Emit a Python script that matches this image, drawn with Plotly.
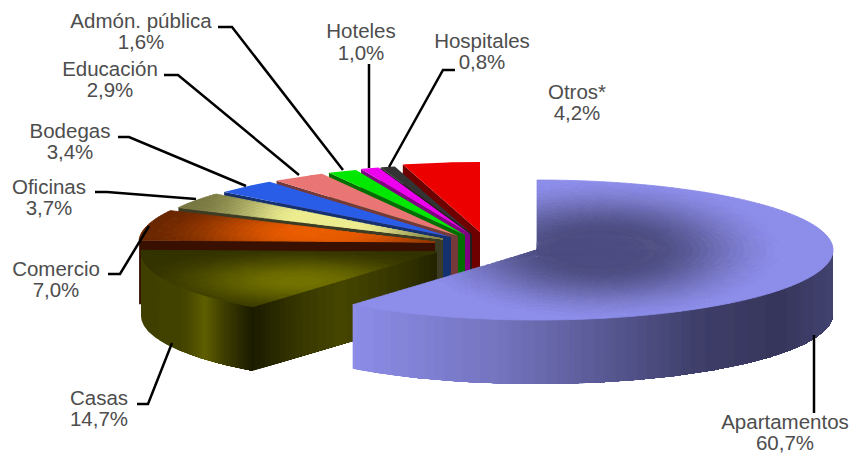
import math
import plotly.graph_objects as go

# ---- data ----
categories = ["Apartamentos", "Casas", "Comercio", "Oficinas", "Bodegas",
              "Educación", "Admón. pública", "Hoteles", "Hospitales", "Otros*"]
shares = [60.7, 14.7, 7.0, 3.7, 3.4, 2.9, 1.6, 1.0, 0.8, 4.2]

# ---- layout / style (pixel space of the 849x455 page) ----
W, H = 849, 455
RX, RY, DEPTH = 296, 70, 64
apex = [(537, 250), (437, 252), (435, 242), (443, 239), (451, 237),
        (458, 236), (465, 235), (470, 234), (472, 234), (480, 232)]
# inner colour, outer colour, gradient centre, half sizes, plateau
face_style = [
    ((76, 76, 128), (141, 141, 235), (600, 250), (190, 72), 0.22),
    ((114, 114, 0), (52, 52, 0), (300, 281), (165, 34), 0.05),
    ((235, 92, 0), (105, 38, 0), (320, 232), (180, 40), 0.1),
    ((238, 238, 145), (120, 120, 65), (325, 225), (135, 80), 0.2),
    ((42, 92, 232), (42, 92, 232), None, None, 0),
    ((234, 117, 117), (234, 117, 117), None, None, 0),
    ((0, 232, 0), (0, 232, 0), None, None, 0),
    ((238, 0, 238), (238, 0, 238), None, None, 0),
    ((51, 51, 51), (51, 51, 51), None, None, 0),
    ((238, 0, 0), (238, 0, 0), None, None, 0),
]
wall_colors = [(66, 66, 112), (40, 40, 0), (58, 16, 0), (60, 60, 36), (22, 48, 112),
               (117, 58, 58), (0, 112, 0), (128, 0, 128), (30, 30, 30), (110, 0, 0)]
rim_stops = {
    0: [(353, (140, 140, 232)), (500, (115, 115, 190)), (600, (90, 90, 150)),
        (700, (62, 62, 105)), (780, (54, 54, 92)), (832, (66, 66, 112))],
    1: [(141, (62, 62, 0)), (185, (68, 68, 0)), (205, (95, 95, 0)), (225, (60, 60, 0)), (254, (25, 25, 0))],
}
radial_stops = {
    1: [(254, (28, 28, 0)), (300, (55, 55, 0)), (340, (70, 70, 0)), (400, (52, 52, 0)), (437, (35, 35, 0))],
}
label_pos = [(785, 424, 445), (99, 400, 421), (56, 271, 292), (49, 189, 210), (70, 133, 154),
             (110, 71, 92), (141, 23, 44), (361, 33, 55), (482, 43, 64), (577, 94, 115)]
leaders = [
    [(814, 335), (814, 413)],
    [(137, 404), (148, 404), (172, 343)],
    [(108, 274), (120, 274), (149, 226)],
    [(95, 192), (107, 192), (196, 199)],
    [(118, 137), (129, 137), (246, 186)],
    [(164, 75), (178, 75), (299, 175)],
    [(218, 27), (232, 27), (343, 170)],
    [(369, 64), (369, 168)],
    [(455, 70), (443, 70), (389, 167)],
]


def lerp(a, b, t):
    return tuple(a[i] + (b[i] - a[i]) * t for i in range(3))


def ramp(stops, x):
    if x <= stops[0][0]:
        return stops[0][1]
    for (x0, c0), (x1, c1) in zip(stops, stops[1:]):
        if x <= x1:
            return lerp(c0, c1, (x - x0) / (x1 - x0))
    return stops[-1][1]


def ckey(col):
    return "rgb(%d,%d,%d)" % tuple(min(255, int(round(c / 3) * 3)) for c in col)


fig = go.Figure()


def draw(xs, ys, key, lw=0.0):
    fig.add_trace(go.Scatter(x=xs, y=ys, mode="lines", fill="toself", fillcolor=key,
                             line=dict(color=key, width=lw), hoverinfo="skip", showlegend=False))


def draw_wall(points, stops):
    """points run along the wall's top edge; bands overpaint the rest of the wall."""
    points = sorted(points, key=lambda p: p[0])
    prev = None
    for k in range(len(points) - 1):
        mid = (points[k][0] + points[k + 1][0]) / 2
        key = ckey(ramp(stops, mid))
        if key != prev:
            rest = points[k:]
            xs = [p[0] for p in rest] + [p[0] for p in reversed(rest)] + [rest[0][0]]
            ys = [p[1] for p in rest] + [p[1] + DEPTH for p in reversed(rest)] + [rest[0][1]]
            draw(xs, ys, key)
            prev = key


def pt(i, a, r=1.0):
    cx, cy = apex[i]
    return (cx + RX * r * math.sin(a), cy - RY * r * math.cos(a))


total = sum(shares)
starts, acc = [], 0.0
for s in shares:
    starts.append(acc)
    acc += s
rad = [(2 * math.pi * st / total, 2 * math.pi * (st + s) / total) for st, s in zip(starts, shares)]

# back to front
for i in range(len(shares) - 1, -1, -1):
    a0, a1 = rad[i]
    if i > 0:
        if i in radial_stops:
            n = 120
            draw_wall([pt(i, a0, k / n) for k in range(n + 1)], radial_stops[i])
        else:
            p0, p1 = pt(i, a0, 0), pt(i, a0, 1)
            draw([p0[0], p1[0], p1[0], p0[0], p0[0]],
                 [p0[1], p1[1], p1[1] + DEPTH, p0[1] + DEPTH, p0[1]], ckey(wall_colors[i]))
    if i in rim_stops:
        lo, hi = max(a0, math.pi / 2), min(a1, 3 * math.pi / 2)
        n = 300
        draw_wall([pt(i, lo + (hi - lo) * k / n) for k in range(n + 1)], rim_stops[i])
    inner, outer, centre, half, plateau = face_style[i]
    if centre is None:
        n = 24
        poly = [pt(i, 0, 0)] + [pt(i, a0 + (a1 - a0) * k / n) for k in range(n + 1)]
        draw([p[0] for p in poly] + [poly[0][0]], [p[1] for p in poly] + [poly[0][1]], ckey(inner))
    else:
        nt = max(12, int((a1 - a0) * 40))
        nr = 40
        cells = []
        for u in range(nt):
            b0, b1 = a0 + (a1 - a0) * u / nt, a0 + (a1 - a0) * (u + 1) / nt
            for v in range(nr):
                r0, r1 = v / nr, (v + 1) / nr
                q = [pt(i, b0, r0), pt(i, b0, r1), pt(i, b1, r1), pt(i, b1, r0)]
                mx = sum(p[0] for p in q) / 4
                my = sum(p[1] for p in q) / 4
                d = math.hypot((mx - centre[0]) / half[0], (my - centre[1]) / half[1])
                t = max(0.0, min(1.0, (d - plateau) / (1 - plateau)))
                cells.append((t * t * (3 - 2 * t), q))
        # outermost tone first so that the seams overlap in a steady order
        cells.sort(key=lambda c: -c[0])
        buckets = {}
        for t, q in cells:
            key = ckey(lerp(inner, outer, t))
            xs, ys = buckets.setdefault(key, ([], []))
            xs.extend([p[0] for p in q] + [q[0][0], None])
            ys.extend([p[1] for p in q] + [q[0][1], None])
        for key, (xs, ys) in buckets.items():
            draw(xs, ys, key, 0.8)

for seg in leaders:
    fig.add_trace(go.Scatter(x=[p[0] for p in seg], y=[p[1] for p in seg], mode="lines",
                             line=dict(color="#000000", width=2.5), hoverinfo="skip", showlegend=False))

text_x, text_y, text_s = [], [], []
for name, val, (lx, ly0, ly1) in zip(categories, shares, label_pos):
    text_x += [lx, lx]
    text_y += [ly0, ly1]
    text_s += [name, f"{val:.1f}".replace(".", ",") + "%"]
fig.add_trace(go.Scatter(x=text_x, y=text_y, text=text_s, mode="text", textposition="middle center",
                         textfont=dict(family="Liberation Sans", size=20.5, color="#4d4d4d"),
                         hoverinfo="skip", showlegend=False, cliponaxis=False))

fig.update_layout(width=W, height=H, margin=dict(l=0, r=0, t=0, b=0),
                  paper_bgcolor="white", plot_bgcolor="white",
                  xaxis=dict(range=[0, W], visible=False, fixedrange=True),
                  yaxis=dict(range=[H, 0], visible=False, fixedrange=True))
fig.write_html("out.html", config={"displayModeBar": False},
               post_script="document.body.style.margin='0';document.documentElement.style.overflow='hidden';")
